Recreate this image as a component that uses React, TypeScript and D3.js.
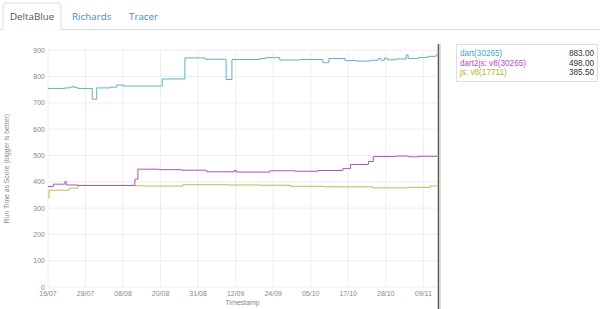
import React from "react";
import * as d3 from "d3";

const W = 600;
const H = 309;

const tabs = ["DeltaBlue", "Richards", "Tracer"];

const yTicks = [0, 100, 200, 300, 400, 500, 600, 700, 800, 900];
const xTickTimes = [
  1374000000000, 1375000000000, 1376000000000, 1377000000000, 1378000000000,
  1379000000000, 1380000000000, 1381000000000, 1382000000000, 1383000000000,
  1384000000000,
];
const xTickLabels = ["16/07", "28/07", "08/08", "20/08", "31/08", "12/09", "24/09", "05/10", "17/10", "28/10", "09/11"];

const domainStart = "2013-07-16 18:40";
const domainEnd = "2013-11-13 17:50";

const dartSeries: [string, number][] = [
  ["2013-07-16 18:40", 755],
  ["2013-07-22 00:00", 757],
  ["2013-07-23 12:00", 760],
  ["2013-07-24 12:00", 763],
  ["2013-07-25 00:00", 758],
  ["2013-07-26 00:00", 755],
  ["2013-07-30 10:00", 714],
  ["2013-07-31 19:00", 757],
  ["2013-08-05 00:00", 760],
  ["2013-08-07 00:00", 768],
  ["2013-08-09 00:00", 764],
  ["2013-08-21 00:00", 791],
  ["2013-08-28 00:00", 871],
  ["2013-09-03 05:00", 866],
  ["2013-09-09 17:00", 789],
  ["2013-09-11 12:00", 865],
  ["2013-09-20 05:00", 869],
  ["2013-09-22 00:00", 872],
  ["2013-09-26 06:00", 863],
  ["2013-10-02 12:00", 865],
  ["2013-10-09 14:00", 853],
  ["2013-10-11 10:00", 869],
  ["2013-10-16 10:00", 861],
  ["2013-10-20 00:00", 859],
  ["2013-10-24 00:00", 862],
  ["2013-10-26 12:00", 868],
  ["2013-10-27 12:00", 862],
  ["2013-10-28 12:00", 870],
  ["2013-10-29 12:00", 864],
  ["2013-11-01 00:00", 867],
  ["2013-11-04 06:00", 882],
  ["2013-11-04 20:00", 869],
  ["2013-11-08 00:00", 873],
  ["2013-11-11 00:00", 877],
  ["2013-11-13 12:00", 883],
  ["2013-11-13 17:50", 883],
];

const dart2jsSeries: [string, number][] = [
  ["2013-07-16 18:40", 382],
  ["2013-07-18 10:00", 391],
  ["2013-07-22 00:00", 401],
  ["2013-07-22 10:00", 388],
  ["2013-07-26 00:00", 386],
  ["2013-08-12 14:00", 410],
  ["2013-08-13 12:00", 448],
  ["2013-08-20 00:00", 446],
  ["2013-08-27 00:00", 444],
  ["2013-09-03 17:00", 438],
  ["2013-09-12 06:00", 443],
  ["2013-09-12 20:00", 437],
  ["2013-09-23 06:00", 442],
  ["2013-10-01 00:00", 440],
  ["2013-10-08 00:00", 443],
  ["2013-10-15 17:00", 450],
  ["2013-10-18 02:00", 466],
  ["2013-10-23 14:00", 477],
  ["2013-10-25 02:00", 496],
  ["2013-11-01 00:00", 498],
  ["2013-11-05 00:00", 495],
  ["2013-11-08 00:00", 497],
  ["2013-11-13 17:50", 498],
];

const jsSeries: [string, number][] = [
  ["2013-07-16 18:40", 340],
  ["2013-07-17 02:00", 368],
  ["2013-07-23 07:00", 376],
  ["2013-07-26 00:00", 386],
  ["2013-08-12 00:00", 385],
  ["2013-08-15 00:00", 384],
  ["2013-08-27 10:00", 389],
  ["2013-09-10 00:00", 388],
  ["2013-09-20 00:00", 387],
  ["2013-09-29 10:00", 383],
  ["2013-10-10 00:00", 381],
  ["2013-10-25 00:00", 377],
  ["2013-11-05 00:00", 379],
  ["2013-11-11 14:00", 384],
  ["2013-11-13 17:50", 385.5],
];

const legendNames = ["dart(30265)", "dart2js: v8(30265)", "js: v8(17711)"];
const legendValues = ["883.00", "498.00", "385.50"];
const lineColors = ["#5ab5c1", "#ad52bf", "#bcbc4c"];
const legendColors = ["#3fa6cc", "#c04ac8", "#b3b32a"];

const parse = d3.utcParse("%Y-%m-%d %H:%M");

export default function App() {
  const left = 48;
  const right = 437;
  const top = 50.3;
  const bottom = 287;

  const x = d3
    .scaleUtc()
    .domain([parse(domainStart) as Date, parse(domainEnd) as Date])
    .range([left, right]);
  const y = d3.scaleLinear().domain([0, 900]).range([bottom, top]);

  const line = d3
    .line<[string, number]>()
    .x((d) => x(parse(d[0]) as Date))
    .y((d) => y(d[1]))
    .curve(d3.curveStepAfter);

  const series = [dartSeries, dart2jsSeries, jsSeries];
  const drawOrder = [0, 2, 1];

  const tabX = [10, 72, 129];
  const axisFont = "Arial, 'Liberation Sans', sans-serif";

  return (
    <svg
      width={W}
      height={H}
      style={{ position: "absolute", left: 0, top: 0, background: "#fff" }}
      fontFamily={axisFont}
    >
      {/* tabs */}
      <line x1={0} x2={W} y1={29.5} y2={29.5} stroke="#ddd" />
      <path d="M3,30 L3,7 Q3,3 7,3 L57,3 Q61,3 61,7 L61,30" fill="#fff" stroke="#ddd" />
      <rect x={3.5} y={28} width={57} height={3} fill="#fff" />
      {tabs.map((t, i) => (
        <text
          key={t}
          x={tabX[i]}
          y={19.5}
          fontFamily="'Open Sans', sans-serif"
          fontSize={9.8}
          fill={i === 0 ? "#555" : "#428bca"}
        >
          {t}
        </text>
      ))}

      {/* grid */}
      {yTicks.map((v) => (
        <line key={"gy" + v} x1={left} x2={right} y1={y(v)} y2={y(v)} stroke="#eeeeee" />
      ))}
      {xTickTimes.map((t) => (
        <line key={"gx" + t} x1={x(new Date(t))} x2={x(new Date(t))} y1={top} y2={bottom} stroke="#eeeeee" />
      ))}

      {/* y tick labels */}
      {yTicks.map((v) => (
        <text key={"ty" + v} x={45} y={y(v) + 2.5} fontSize={7} fill="#888" textAnchor="end">
          {v}
        </text>
      ))}
      {/* x tick labels */}
      {xTickTimes.map((t, i) => (
        <text key={"tx" + t} x={x(new Date(t))} y={296} fontSize={7} fill="#888" textAnchor="middle">
          {xTickLabels[i]}
        </text>
      ))}
      <text x={(left + right) / 2} y={305} fontSize={7} fill="#888" textAnchor="middle">
        Timestamp
      </text>
      <text
        transform={`translate(9,${(top + bottom) / 2}) rotate(-90)`}
        fontSize={6.8}
        fill="#888"
        textAnchor="middle"
      >
        Run Time as Score (bigger is better)
      </text>

      {/* lines */}
      {drawOrder.map((i) => (
        <path key={"l" + i} d={line(series[i]) || ""} fill="none" stroke={lineColors[i]} strokeWidth={1} />
      ))}

      {/* hover line */}
      <line x1={438.5} x2={438.5} y1={44} y2={H} stroke="#5a5a5a" strokeWidth={1.6} />
      <line x1={440.3} x2={440.3} y1={44} y2={H} stroke="#d8d8d8" strokeWidth={1.2} />

      {/* legend */}
      <rect x={456.5} y={44.5} width={141} height={37} fill="#fff" stroke="#ddd" />
      {legendNames.map((n, i) => (
        <g key={n}>
          <text x={460} y={56 + i * 9.7} fontSize={8.2} fill={legendColors[i]}>
            {n}
          </text>
          <text x={594} y={56 + i * 9.7} fontSize={8.2} fill="#333" textAnchor="end">
            {legendValues[i]}
          </text>
        </g>
      ))}
    </svg>
  );
}
